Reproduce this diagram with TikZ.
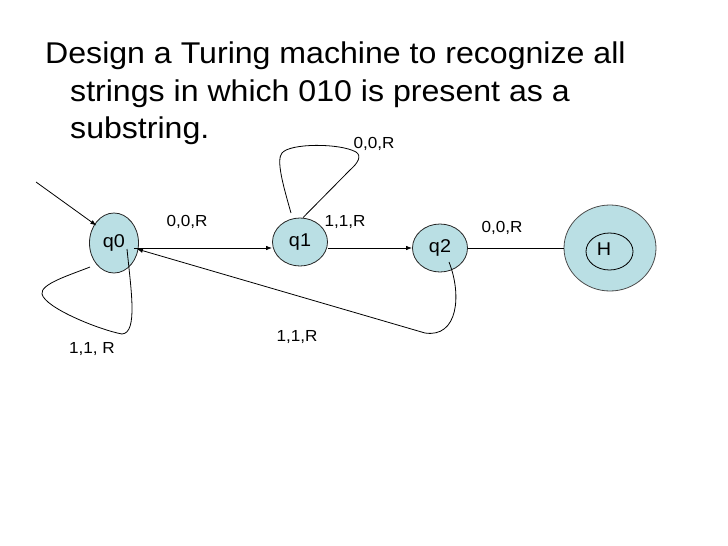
\documentclass[tikz,border=0pt]{standalone}
\usepackage{fontspec}
\setmainfont{Liberation Sans}
\newfontfamily\titlefont[FakeStretch=1.07]{Liberation Sans}
\newfontfamily\lblfont[FakeStretch=1.07]{Liberation Sans}
\usetikzlibrary{arrows.meta,shapes.geometric}
\definecolor{statefill}{RGB}{186,223,228}
\begin{document}
\begin{tikzpicture}[x=1pt,y=-1pt,
  st/.style={ellipse, draw=black!85, fill=statefill, line width=0.8pt, inner sep=0pt, font=\lblfont\fontsize{18.5}{22}\selectfont},
  lbl/.style={inner sep=0pt, font=\lblfont\fontsize{16}{19}\selectfont},
  ttl/.style={inner sep=0pt, anchor=base west, font=\titlefont\fontsize{30}{36}\selectfont},
  edge/.style={line width=0.8pt, black},
  arr/.style={edge, -{Latex[length=6pt,width=4.5pt]}}]
\fill[white] (0,0) rectangle (728,546);
\useasboundingbox (0,0) rectangle (728,546);

% title
\node[ttl] (t1) at (45,63) {Design a Turing machine to recognize all};
\node[ttl] (t2) at (70,101) {strings in which 010 is present as a};
\node[ttl] (t3) at (70,138) {substring.};

% states
\node[st, minimum width=49pt, minimum height=60pt] (q0) at (114,243) {q0};
\node[st, minimum width=55pt, minimum height=48pt] (q1) at (300,242) {q1};
\node[st, minimum width=55pt, minimum height=48pt] (q2) at (440,248) {q2};
\node[st, draw=black!70, minimum width=92pt, minimum height=86pt] (H) at (610,248) {};
\node[ellipse, draw=black, line width=0.8pt, minimum width=47pt, minimum height=37pt] (Hi) at (609.5,251.5) {};
\node[lbl, font=\lblfont\fontsize{18.5}{22}\selectfont] (Ht) at (604,249) {H};

% edges
\coordinate (s0) at (36,182);
\draw[arr] (s0) -- ([shift={(0pt,-4pt)}]q0.north west);
\draw[arr] ([shift={(-5pt,-5pt)}]q0.east) -- ([yshift=-6pt]q1.west);
\draw[arr] ([yshift=-6pt]q1.east) -- (q2.west);
\draw[edge] (q2.east) -- (H.west);

% q0 self loop
\draw[edge] ([shift={(13pt,-6pt)}]q0.center) .. controls (131,290) and (138,333) .. (122,334)
  .. controls (100,330) and (45,308) .. (42,294)
  .. controls (40,284) and (70,275) .. ([shift={(-24pt,-24pt)}]q0.center);

% q1 self loop
\draw[edge] ([shift={(-9pt,29pt)}]q1.center) .. controls (283,185) and (276,160) .. (282,153)
  .. controls (290,143) and (340,143) .. (356,152)
  .. controls (362,156) and (358,163) .. (350,170) -- ([xshift=3pt]q1.north);

% q2 back to q0
\draw[arr] ([shift={(9pt,-14pt)}]q2.center) .. controls (462,295) and (458,338) .. (425,333)
  -- ([shift={(-2pt,-6pt)}]q0.east);

% labels
\node[lbl] (l1) at (187,222) {0,0,R};
\node[lbl] (l2) at (345,222) {1,1,R};
\node[lbl] (l3) at (374,144) {0,0,R};
\node[lbl] (l4) at (502,228) {0,0,R};
\node[lbl] (l5) at (297,337) {1,1,R};
\node[lbl] (l6) at (92,349) {1,1, R};
\end{tikzpicture}
\end{document}
